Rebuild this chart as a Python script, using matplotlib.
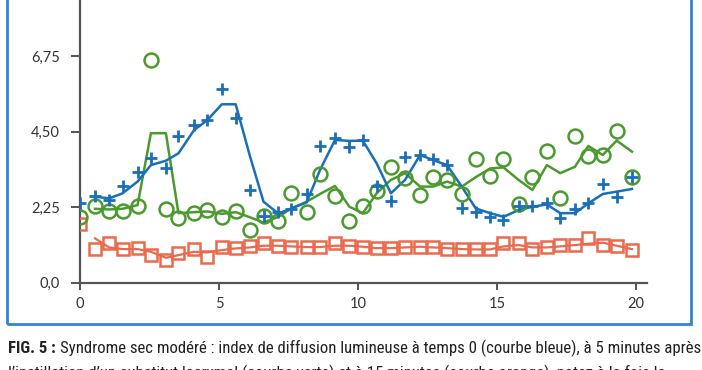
import matplotlib
matplotlib.use("Agg")
import matplotlib.pyplot as plt
from matplotlib.patches import Rectangle
from matplotlib import font_manager as fm

# ---- data ----
x_pts = [0.0, 0.54, 1.05, 1.53, 2.07, 2.55, 3.09, 3.54, 4.10, 4.58,
         5.10, 5.60, 6.10, 6.60, 7.13, 7.60, 8.15, 8.63, 9.17, 9.69,
         10.17, 10.67, 11.18, 11.69, 12.23, 12.70, 13.20, 13.73, 14.23, 14.75,
         15.23, 15.77, 16.27, 16.79, 17.27, 17.80, 18.28, 18.80, 19.30, 19.85]

blue_pts = [2.36, 2.59, 2.46, 2.89, 3.30, 3.70, 3.42, 4.38, 4.69, 4.84,
            5.76, 4.91, 2.76, 1.99, 2.11, 2.18, 2.64, 4.08, 4.30, 4.05,
            4.25, 2.89, 2.43, 3.73, 3.80, 3.67, 3.50, 2.21, 2.10, 1.96,
            1.87, 2.29, 2.29, 2.36, 1.92, 2.18, 2.38, 2.93, 2.56, 3.15]

green_pts = [1.96, 2.28, 2.13, 2.13, 2.28, 6.63, 2.18, 1.92, 2.08, 2.16,
             1.96, 2.14, 1.57, 1.99, 1.84, 2.66, 2.11, 3.24, 2.59, 1.84,
             2.29, 2.74, 3.43, 3.11, 2.61, 3.15, 3.06, 2.64, 3.68, 3.18,
             3.68, 2.34, 3.15, 3.93, 2.51, 4.38, 3.78, 3.80, 4.52, 3.15]

orange_pts = [1.75, 0.99, 1.19, 0.99, 1.04, 0.82, 0.68, 0.89, 0.99, 0.77,
              1.07, 1.02, 1.09, 1.17, 1.09, 1.07, 1.05, 1.05, 1.19, 1.10,
              1.05, 1.02, 1.02, 1.07, 1.07, 1.07, 0.99, 0.99, 0.99, 0.99,
              1.19, 1.17, 0.99, 1.07, 1.12, 1.12, 1.34, 1.12, 1.09, 0.97]

# smoothed curves (start at the second sample)
x_line = x_pts[1:]
blue_line = [2.56, 2.51, 2.66, 3.01, 3.50, 3.63, 3.85, 4.54, 4.84,
             5.31, 5.31, 3.80, 2.41, 2.06, 2.21, 2.39, 3.35, 4.25, 4.22,
             4.23, 3.55, 2.66, 3.06, 3.80, 3.65, 3.50, 2.86, 2.21, 2.07,
             1.96, 2.16, 2.26, 2.33, 2.07, 2.07, 2.36, 2.64, 2.71, 2.79]
green_line = [2.20, 2.18, 2.20, 2.31, 4.45, 4.45, 2.07, 2.10, 2.12,
              2.05, 2.10, 1.95, 1.79, 1.96, 2.21, 2.41, 2.64, 2.88, 2.26,
              2.07, 2.66, 3.06, 3.26, 2.86, 2.86, 3.01, 2.86, 3.14, 3.40,
              3.43, 3.06, 2.76, 3.50, 3.26, 3.45, 4.07, 3.80, 4.23, 3.90]
orange_line = [1.32, 1.05, 1.00, 1.00, 0.92, 0.74, 0.82, 0.92, 0.90,
               0.97, 1.02, 1.05, 1.10, 1.10, 1.08, 1.06, 1.06, 1.10, 1.10,
               1.07, 1.03, 1.03, 1.05, 1.07, 1.05, 1.03, 1.00, 0.99, 0.99,
               1.08, 1.12, 1.05, 1.05, 1.08, 1.12, 1.16, 1.19, 1.10, 1.00]

y_ticks = [0.0, 2.25, 4.50, 6.75]
y_ticklabels = ["0,0", "2,25", "4,50", "6,75"]
x_ticks = [0, 5, 10, 15, 20]
x_ticklabels = ["0", "5", "10", "15", "20"]

caption_bold = "FIG. 5 : "
caption_rest = ("Syndrome sec modéré : index de diffusion lumineuse à temps 0 (courbe bleue), "
                "à 5 minutes après")
caption_line2 = ("l’instillation d’un substitut lacrymal (courbe verte) et à 15 minutes "
                 "(courbe orange), notez à la fois la")

BLUE = "#1a6fb7"
GREEN = "#4b9a2e"
ORANGE = "#ea6a4e"
FRAME = "#2f86cf"
AXC = "#555555"

W, H = 702, 370
fig = plt.figure(figsize=(W / 100, H / 100), dpi=100)
fig.patch.set_facecolor("white")

# frame
fig.patches.append(Rectangle((7 / W, 1 - 324 / H), (691 - 7) / W, 324 / H + 0.05,
                             transform=fig.transFigure, fill=False,
                             edgecolor=FRAME, linewidth=2.0, clip_on=False))

ax = fig.add_axes([80 / W, 1 - 282.7 / H, (646.7 - 80) / W, 282.7 / H])
ax.set_facecolor("none")
ax.set_xlim(0, 20.38)
ax.set_ylim(0, 282.7 / 33.6)

ax.plot(x_line, orange_line, color=ORANGE, lw=1.6, zorder=2)
ax.plot(x_pts, orange_pts, ls="none", marker="s", ms=9, mfc="none",
        mec=ORANGE, mew=1.8, zorder=3)
ax.plot(x_line, green_line, color=GREEN, lw=1.8, zorder=2)
ax.plot(x_pts, green_pts, ls="none", marker="o", ms=10, mfc="none",
        mec=GREEN, mew=1.8, zorder=3)
ax.plot(x_line, blue_line, color=BLUE, lw=1.8, zorder=2)
ax.plot(x_pts, blue_pts, ls="none", marker="+", ms=9, mec=BLUE,
        mew=2.0, zorder=4)

for s in ["top", "right"]:
    ax.spines[s].set_visible(False)
for s in ["left", "bottom"]:
    ax.spines[s].set_color(AXC)
    ax.spines[s].set_linewidth(1.6)

ax.set_yticks(y_ticks)
ax.set_yticklabels(y_ticklabels)
ax.set_xticks(x_ticks)
ax.set_xticklabels(x_ticklabels)
ax.tick_params(axis="y", direction="out", length=6.5, width=1.4, color=AXC,
               pad=8, labelsize=10.5, labelcolor="#333333")
ax.tick_params(axis="x", direction="out", length=5, width=1.4, color=AXC,
               pad=5, labelsize=10.5, labelcolor="#333333")
for lab in ax.get_xticklabels() + ax.get_yticklabels():
    lab.set_family(["Lato", "DejaVu Sans"])

# caption font: prefer a narrow face if installed
cap_font = "Lato"
for cand in ["Liberation Sans Narrow", "Roboto Condensed", "Open Sans Condensed"]:
    try:
        fm.findfont(fm.FontProperties(family=cand), fallback_to_default=False)
        cap_font = cand
        break
    except Exception:
        pass
fam = [cap_font, "DejaVu Sans"]

renderer = fig.canvas.get_renderer()
fs = 12
tb = fig.text(8 / W, 1 - 353 / H, caption_bold, fontsize=fs, fontweight="bold",
              family=fam, color="#222222", va="baseline")
tr = fig.text(0, 1 - 353 / H, caption_rest, fontsize=fs,
              family=fam, color="#222222", va="baseline")
total = tb.get_window_extent(renderer).width + tr.get_window_extent(renderer).width
fs = fs * (700 - 8) / total
tb.set_fontsize(fs)
tr.set_fontsize(fs)
bb = tb.get_window_extent(renderer)
tr.set_x(bb.x1 / W)
t2 = fig.text(8 / W, 1 - 378 / H, caption_line2, fontsize=fs,
              family=fam, color="#222222", va="baseline")

fig.savefig("out.png", dpi=100)
